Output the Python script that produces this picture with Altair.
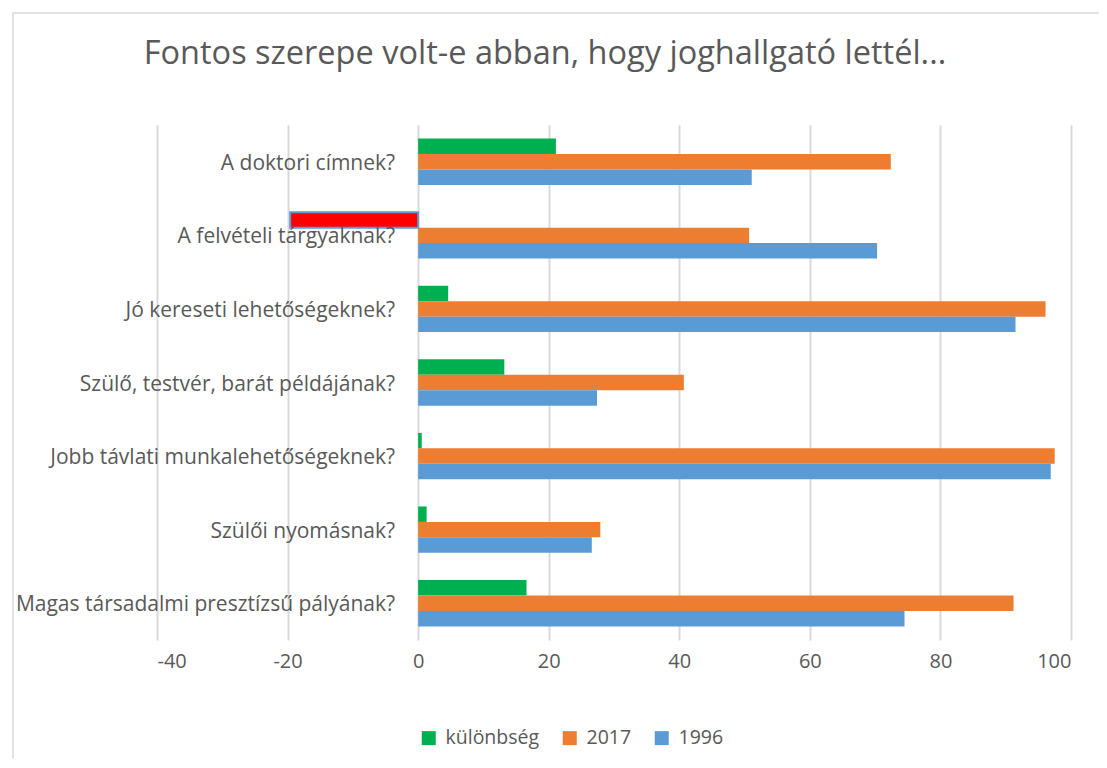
import altair as alt
import pandas as pd

categories = [
    "A doktori címnek?",
    "A felvételi tárgyaknak?",
    "Jó kereseti lehetőségeknek?",
    "Szülő, testvér, barát példájának?",
    "Jobb távlati munkalehetőségeknek?",
    "Szülői nyomásnak?",
    "Magas társadalmi presztízsű pályának?",
]
series = ["különbség", "2017", "1996"]
v_diff = [21.1, -19.6, 4.6, 13.2, 0.55, 1.3, 16.6]
v_2017 = [72.4, 50.7, 96.1, 40.7, 97.5, 27.9, 91.2]
v_1996 = [51.1, 70.3, 91.5, 27.4, 96.9, 26.6, 74.5]
x_ticks = [-40, -20, 0, 20, 40, 60, 80, 100]
title_text = "Fontos szerepe volt-e abban, hogy joghallgató lettél..."

rows = []
for s, vals in zip(series, [v_diff, v_2017, v_1996]):
    for c, v in zip(categories, vals):
        rows.append({"cat": c, "series": s, "value": v})
df = pd.DataFrame(rows)
labels_df = pd.DataFrame({"cat": categories})

FONT = "Open Sans"
TXT = "#595959"

yscale = alt.Scale(domain=categories, paddingInner=0.37, paddingOuter=0.185)

bars = alt.Chart(df).mark_bar(strokeWidth=2).encode(
    x=alt.X("value:Q", scale=alt.Scale(domain=[-40, 100], nice=False),
            axis=alt.Axis(values=x_ticks, title=None, domain=False, ticks=False,
                          grid=True, gridColor="#D9D9D9", gridWidth=2,
                          labelFontSize=20, labelColor=TXT, labelFont=FONT,
                          labelPadding=11, labelExpr="datum.value + ''")),
    y=alt.Y("cat:N", scale=yscale, sort=categories,
            axis=alt.Axis(title=None, labels=False, ticks=False, domain=False, grid=False)),
    yOffset=alt.YOffset("series:N", sort=series, scale=alt.Scale(domain=series, paddingInner=0, paddingOuter=0)),
    color=alt.condition(
        alt.datum.value < 0,
        alt.value("#FF0000"),
        alt.Color("series:N",
                  scale=alt.Scale(domain=series, range=["#00B050", "#ED7D31", "#5B9BD5"]),
                  legend=alt.Legend(title=None, orient="none", direction="horizontal",
                                    legendX=262, legendY=603, symbolType="square",
                                    symbolSize=196, symbolStrokeWidth=0,
                                    labelFontSize=19.5, labelColor=TXT, labelFont=FONT,
                                    labelOffset=7, columnPadding=20, padding=0)),
    ),
    stroke=alt.condition(alt.datum.value < 0, alt.value("#5B9BD5"), alt.value("transparent")),
)

labels = alt.Chart(labels_df).mark_text(
    align="right", baseline="middle", dx=-23, dy=2, fontSize=21, font=FONT, color=TXT
).encode(
    x=alt.datum(0),
    y=alt.Y("cat:N", scale=yscale, sort=categories),
    text="cat:N",
)

border = alt.Chart(labels_df.head(1)).mark_rect(
    fill="transparent", stroke="#D9D9D9", strokeWidth=1.5
).encode(
    x=alt.value(-144), x2=alt.value(1000), y=alt.value(-112), y2=alt.value(700)
)

chart = alt.layer(border, bars, labels).properties(
    width=914, height=515,
    autosize=alt.AutoSizeParams(type="none"),
    padding={"left": 149, "top": 117, "right": 28, "bottom": 118},
    title=alt.TitleParams(title_text, fontSize=32.5, font=FONT, fontWeight="normal",
                          color=TXT, anchor="middle", frame="group", dx=-69, offset=-58),
).configure_view(stroke=None)

chart.save("out.html", embed_options={"renderer": "svg", "actions": False})
